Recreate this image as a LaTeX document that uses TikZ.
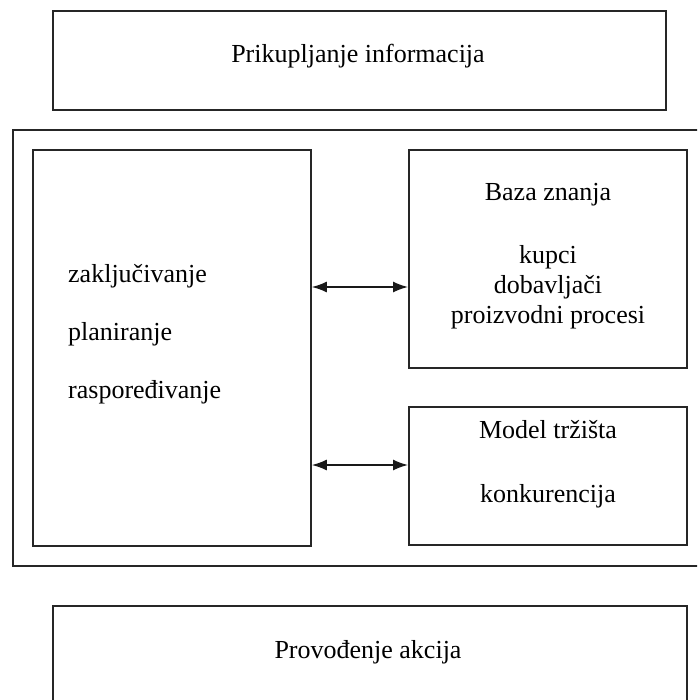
\documentclass[tikz,border=0pt]{standalone}
\usepackage{fontspec}
\setmainfont{Liberation Serif}
\usetikzlibrary{arrows.meta}
\begin{document}
\begin{tikzpicture}[x=1pt,y=-1pt,
  box/.style={draw=black!85,line width=1.8pt,inner sep=0pt,anchor=north west},
  lbl/.style={inner sep=0pt,font=\fontsize{26}{30}\selectfont},
  arr/.style={line width=1.5pt,draw=black!90,{Latex[length=15pt,width=11pt]}-{Latex[length=15pt,width=11pt]}}]
\useasboundingbox (0,0) rectangle (697,700);
\clip (0,0) rectangle (697,700);
% boxes
\node[box,minimum width=613pt,minimum height=99pt] (top) at (52,10) {};
\node[box,minimum width=720pt,minimum height=436pt] (outer) at (12,129) {};
\node[box,minimum width=278pt,minimum height=396pt] (left) at (32,149) {};
\node[box,minimum width=278pt,minimum height=218pt] (kb) at (408,149) {};
\node[box,minimum width=278pt,minimum height=138pt] (mt) at (408,406) {};
\node[box,minimum width=634pt,minimum height=130pt] (bot) at (52,605) {};
% texts
\node[lbl,anchor=base] (t1) at (358,63) {Prikupljanje informacija};
\node[lbl,anchor=base west] (l1) at (68,282) {zaključivanje};
\node[lbl,anchor=base west] (l2) at (68,340) {planiranje};
\node[lbl,anchor=base west] (l3) at (68,398) {raspoređivanje};
\node[lbl,anchor=base] (k1) at (548,201) {Baza znanja};
\node[lbl,anchor=base] (k2) at (548,263) {kupci};
\node[lbl,anchor=base] (k3) at (548,293) {dobavljači};
\node[lbl,anchor=base] (k4) at (548,323) {proizvodni procesi};
\node[lbl,anchor=base] (m1) at (548,438) {Model tržišta};
\node[lbl,anchor=base] (m2) at (548,502) {konkurencija};
\node[lbl,anchor=base] (b1) at (368,658) {Provođenje akcija};
% connectors
\draw[arr] (left.east |- 0,287) -- (kb.west |- 0,287);
\draw[arr] (left.east |- 0,465) -- (mt.west |- 0,465);
\end{tikzpicture}
\end{document}
